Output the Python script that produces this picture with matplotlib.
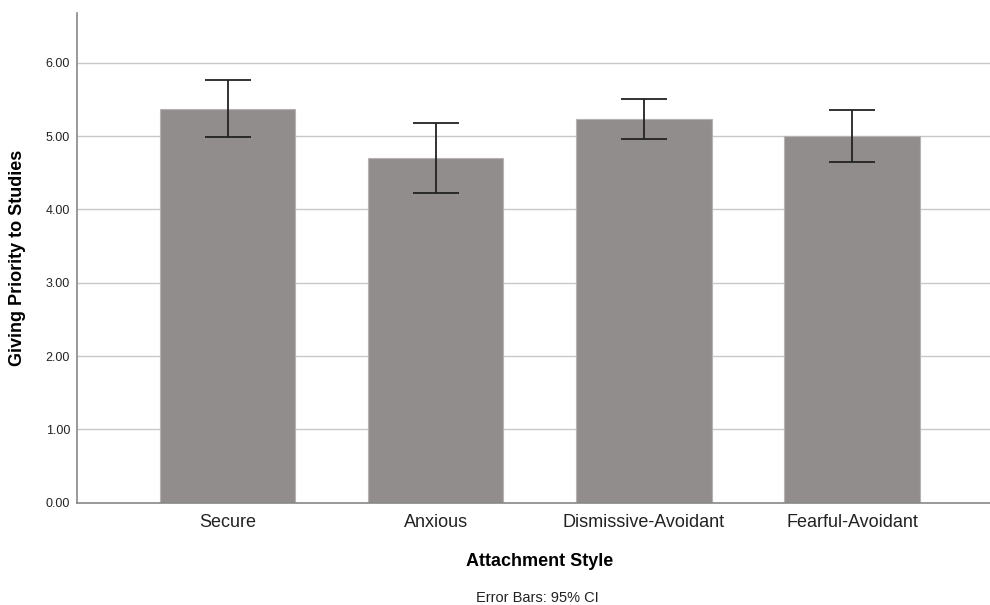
import matplotlib
matplotlib.use("Agg")
import matplotlib.pyplot as plt
import numpy as np

plt.rcParams['font.family'] = ['Liberation Sans', 'DejaVu Sans']

categories = ["Secure", "Anxious", "Dismissive-Avoidant", "Fearful-Avoidant"]
means = [5.37, 4.70, 5.23, 5.00]
ci_upper = [5.76, 5.18, 5.50, 5.35]
ci_lower = [4.99, 4.22, 4.96, 4.65]
yticks = [0, 1, 2, 3, 4, 5, 6]
ytick_labels = ["0.00", "1.00", "2.00", "3.00", "4.00", "5.00", "6.00"]

W, H = 990, 605
ax_left, ax_bottom_px, ax_top_px = 77, 502.6, 13
fig = plt.figure(figsize=(W/100, H/100), dpi=100)
ax = fig.add_axes([ax_left/W, (H-ax_bottom_px)/H, 1 - ax_left/W, (ax_bottom_px-ax_top_px)/H])
ax_h = ax_bottom_px - ax_top_px
ax_w = W - ax_left

x = np.arange(len(categories))
means_a = np.array(means)
yerr = np.vstack([means_a - np.array(ci_lower), np.array(ci_upper) - means_a])

ax.bar(x, means, width=0.65, color="#918d8c", edgecolor="#b5b2b1", linewidth=0.8, zorder=2)
ax.errorbar(x, means, yerr=yerr, fmt="none", ecolor="#222222", elinewidth=1.3,
            capsize=16.4, capthick=1.3, zorder=3)

ax.set_xlim(-0.723, 3.662)
ax.set_ylim(0, 6.68)
ax.set_yticks(yticks)
ax.set_yticklabels(ytick_labels, fontsize=9, color="#222222")
ax.set_xticks(x)
ax.set_xticklabels(categories, fontsize=13, color="#222222")
ax.tick_params(axis="both", length=0)
ax.tick_params(axis="y", pad=5)
ax.tick_params(axis="x", pad=8)

ax.yaxis.grid(True, color="#c8c8c8", linewidth=1.0, zorder=0)
ax.set_axisbelow(True)

for s in ["top", "right"]:
    ax.spines[s].set_visible(False)
for s in ["left", "bottom"]:
    ax.spines[s].set_color("#888888")
    ax.spines[s].set_linewidth(1.2)

ax.set_ylabel("Giving Priority to Studies", fontsize=13, fontweight="bold", va="center", ha="center")
ax.yaxis.set_label_coords((18 - ax_left)/ax_w, 0.5)
ax.set_xlabel("Attachment Style", fontsize=13, fontweight="bold", va="center", ha="center")
ax.xaxis.set_label_coords((540 - ax_left)/ax_w, (ax_bottom_px - 562)/ax_h)

fig.text(537/W, 1 - 598/H, "Error Bars: 95% CI", ha="center", va="center", fontsize=10.5, color="#222222")

fig.savefig("out.png", dpi=100)
